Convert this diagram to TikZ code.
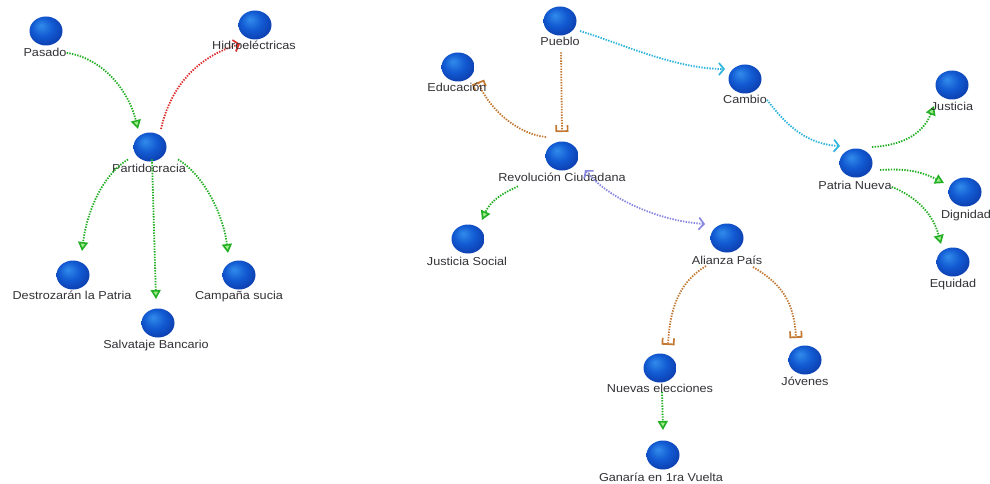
\documentclass[tikz,border=0pt]{standalone}
\usepackage{fontspec}
\setmainfont{Liberation Sans}[FakeStretch=1.1]
\usetikzlibrary{arrows.meta,calc,shapes.geometric}
\definecolor{bl1}{RGB}{50,140,235}
\definecolor{bl2}{RGB}{18,90,210}
\definecolor{bl3}{RGB}{8,38,145}
\definecolor{txt}{RGB}{50,50,55}
\definecolor{gr}{RGB}{35,175,35}
\definecolor{grfill}{RGB}{160,235,140}
\definecolor{rd}{RGB}{220,45,45}
\definecolor{cy}{RGB}{45,180,220}
\definecolor{br}{RGB}{195,120,50}
\definecolor{pu}{RGB}{135,135,225}
\pgfdeclareradialshading{nball}{\pgfpoint{-8bp}{10bp}}{color(0bp)=(bl1); color(16bp)=(bl2); color(42bp)=(bl3); color(50bp)=(bl3)}
\tikzset{
  ball/.style={ellipse,minimum width=33pt,minimum height=29pt,inner sep=0pt,shading=nball,draw=none},
  lab/.style={text=txt,font=\fontsize{11.5}{13}\selectfont,inner sep=0pt,anchor=base,yshift=-4pt},
  link/.style={line width=1.8pt,dash pattern=on 1.4pt off 1.3pt},
  gl/.style={link,draw=gr,-{Triangle[length=9pt,width=10pt,line width=1.6pt,fill=grfill]}},
  rl/.style={link,draw=rd,-{Straight Barb[length=5pt,width=12pt,line width=1.7pt]}},
  cl/.style={link,draw=cy,-{Straight Barb[length=5pt,width=12pt,line width=1.7pt]}},
  pl/.style={link,draw=pu,{Straight Barb[length=5pt,width=12pt,line width=1.7pt]}-{Straight Barb[length=5pt,width=12pt,line width=1.7pt]}},
  bl/.style={link,draw=br,-{Bracket[length=6pt,width=13pt,line width=1.7pt]}}
}
\begin{document}
\begin{tikzpicture}[x=1pt,y=-1pt]
\useasboundingbox (0,0) rectangle (990,484);
\fill[white] (0,0) rectangle (990,484);
% left cluster
\node[ball] (pas) at (46,31) {};
\node[lab] (pasl) at (45,53) {Pasado};
\node[ball] (hid) at (255,25) {};
\node[ball] (par) at (150,147) {};
\node[lab] (parl) at (149,168) {Partidocracia};
\node[ball] (des) at (73,275) {};
\node[lab] (desl) at (72,295) {Destrozarán la Patria};
\node[ball] (cam) at (239,275) {};
\node[lab] (caml) at (239,295) {Campaña sucia};
\node[ball] (sal) at (158,323) {};
\node[lab] (sall) at (156,344) {Salvataje Bancario};
% right cluster
\node[ball] (pue) at (560,21) {};
\node[lab] (puel) at (560,42) {Pueblo};
\node[ball] (edu) at (458,67) {};
\node[ball] (rev) at (562,156) {};
\node[lab] (revl) at (562,177) {Revolución Ciudadana};
\node[ball] (cbo) at (745,79) {};
\node[lab] (cbol) at (745,100) {Cambio};
\node[ball] (jus) at (952,85) {};
\node[ball] (pat) at (856,163) {};
\node[lab] (patl) at (855,185) {Patria Nueva};
\node[ball] (dig) at (965,192) {};
\node[lab] (digl) at (966,214) {Dignidad};
\node[ball] (equ) at (953,262) {};
\node[lab] (equl) at (953,283) {Equidad};
\node[ball] (ali) at (727,238) {};
\node[ball] (jso) at (468,239) {};
\node[lab] (jsol) at (467,261) {Justicia Social};
\node[ball] (nue) at (660,368) {};
\node[ball] (jov) at (805,360) {};
\node[lab] (jovl) at (805,381) {Jóvenes};
\node[ball] (gan) at (663,455) {};
\node[lab] (ganl) at (661,477) {Ganaría en 1ra Vuelta};
% connectors (left)
\draw[gl] (pasl.east) .. controls +(35,5) and +(-10,-40) .. ($(par)+(-12,-18)$);
\draw[rl] ($(par)+(11,-18)$) .. controls +(10,-45) and +(-40,12) .. ($(hid)+(-15,19)$);
\draw[gl] ($(parl.north)+(-21,-4)$) .. controls +(-25,15) and +(5,-40) .. ($(des)+(9,-24)$);
\draw[gl] ($(parl.north)+(3,-4)$) -- ($(sal)+(-2,-24)$);
\draw[gl] ($(parl.north)+(29,-4)$) .. controls +(25,15) and +(-5,-40) .. ($(cam)+(-11,-22)$);
% connectors (right)
\draw[cl] ($(pue)+(20,10)$) .. controls +(40,12) and +(-50,0) .. ($(cbo)+(-20,-10)$);
\draw[cl] ($(cbol.east)+(0,0)$) .. controls +(12,15) and +(-40,-2) .. ($(pat)+(-16,-17)$);
\draw[bl] ($(puel.south)+(1,6)$) -- ($(rev)+(0,-24)$);
\draw[bl] ($(rev)+(-16,-19)$) .. controls +(-30,-3) and +(10,25) .. ($(edu)+(20,15)$);
\draw[gl] ($(revl.south)+(-44,5)$) .. controls +(-18,8) and +(8,-18) .. ($(jso)+(14,-19)$);
\draw[pl] ($(rev)+(23,14)$) .. controls +(25,30) and +(-45,-3) .. ($(ali)+(-22,-14)$);
\draw[bl] ($(ali)+(-21,28)$) .. controls +(-25,15) and +(2,-40) .. ($(nue)+(8,-23)$);
\draw[bl] ($(ali)+(26,29)$) .. controls +(25,15) and +(-2,-40) .. ($(jov)+(-9,-22)$);
\draw[gl] ($(nue)+(2,24)$) -- ($(gan)+(0,-25)$);
\draw[gl] ($(pat)+(16,-16)$) .. controls +(35,-2) and +(-10,25) .. ($(jus)+(-18,21)$);
\draw[gl] ($(pat)+(24,7)$) .. controls +(30,-2) and +(-20,-10) .. ($(dig)+(-21,-9)$);
\draw[gl] ($(patl.east)+(0,2)$) .. controls +(25,10) and +(-8,-30) .. ($(equ)+(-12,-18)$);
% labels drawn on top of connectors
\node[lab] (hidl) at (254,46) {Hidroeléctricas};
\node[lab] (edul) at (457,88) {Educación};
\node[lab] (jusl) at (952,107) {Justicia};
\node[lab] (alil) at (727,260) {Alianza País};
\node[lab] (nuel) at (660,388) {Nuevas elecciones};
\end{tikzpicture}
\end{document}
